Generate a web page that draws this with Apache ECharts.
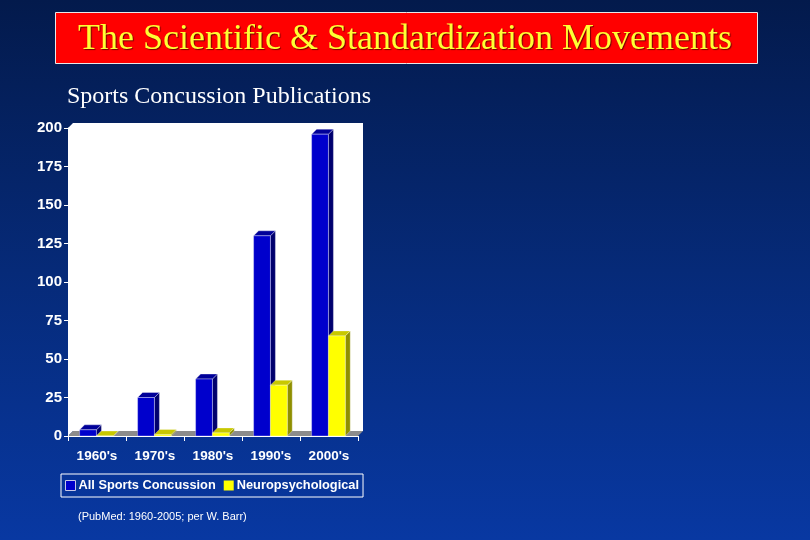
<!DOCTYPE html>
<html>
<head>
<meta charset="utf-8">
<script src="https://cdn.jsdelivr.net/npm/echarts@6/dist/echarts.min.js"></script>
<style>
html,body{margin:0;padding:0;width:810px;height:540px;overflow:hidden;background:#052977;}
#c{width:810px;height:540px;}
</style>
</head>
<body>
<div id="c"></div>
<script>
const categories = ["1960's", "1970's", "1980's", "1990's", "2000's"];
const allSports = [4, 25, 37, 130, 196];
const neuro = [0, 1, 2, 33, 65];
const yTicks = { min: 0, max: 200, interval: 25 };
const seriesNames = ['All Sports Concussion', 'Neuropsychological'];
const titleText = 'The Scientific & Standardization Movements';
const subtitleText = 'Sports Concussion Publications';
const noteText = '(PubMed: 1960-2005; per W. Barr)';

const DEPTH = 5;
const sans = "'Liberation Sans', Arial, sans-serif";
const serif = "'Liberation Serif', 'Times New Roman', serif";

function bar3d(colors, offsetFrac) {
  return function (params, api) {
    const ci = api.value(0);
    const top = api.coord([ci, api.value(1)]);
    const base = api.coord([ci, 0]);
    const band = api.size([1, 0])[0];
    const w = band * 0.29;
    const x = top[0] + band * offsetFrac;
    const y = top[1];
    const b = base[1];
    const d = DEPTH;
    const edge = { stroke: 'rgba(255,255,255,0.55)', lineWidth: 0.6 };
    return {
      type: 'group',
      children: [
        { type: 'polygon', shape: { points: [[x + w, y], [x + w + d, y - d], [x + w + d, b - d], [x + w, b]] },
          style: Object.assign({ fill: colors.side }, edge) },
        { type: 'polygon', shape: { points: [[x, y], [x + d, y - d], [x + w + d, y - d], [x + w, y]] },
          style: Object.assign({ fill: colors.top }, edge) },
        { type: 'rect', shape: { x: x, y: y, width: w, height: Math.max(b - y, 0) },
          style: Object.assign({ fill: colors.front }, edge) }
      ]
    };
  };
}

function wallFloor(params, api) {
  const n = categories.length;
  const band = api.size([1, 0])[0];
  const l = api.coord([0, yTicks.max])[0] - band / 2;
  const r = api.coord([n - 1, yTicks.max])[0] + band / 2;
  const t = api.coord([0, yTicks.max])[1];
  const b = api.coord([0, yTicks.min])[1];
  const d = DEPTH;
  return {
    type: 'group',
    children: [
      { type: 'polygon', shape: { points: [[l, t], [l + d, t - d], [r + d, t - d], [r + d, b - d], [l + d, b - d], [l, b]] },
        style: { fill: '#ffffff' } },
      { type: 'polygon', shape: { points: [[l, b], [l + d, b - d], [r + d, b - d], [r, b]] },
        style: { fill: '#8c8c8c' } }
    ]
  };
}

const chart = echarts.init(document.getElementById('c'), null, { renderer: 'canvas' });
chart.setOption({
  animation: false,
  backgroundColor: {
    type: 'linear', x: 0, y: 0, x2: 0, y2: 1,
    colorStops: [{ offset: 0, color: '#031a4c' }, { offset: 0.5, color: '#062a78' }, { offset: 1, color: '#0838a2' }]
  },
  graphic: [
    { type: 'rect', left: 55, top: 12, shape: { width: 702, height: 51 },
      style: { fill: '#ff0000', stroke: '#e8e8e8', lineWidth: 1 } },
    { type: 'text', left: 'center', top: 22, style: { text: titleText, fill: '#ffff33',
      font: "36px " + serif,
      textShadowColor: 'rgba(80,0,0,0.8)', textShadowOffsetX: 1, textShadowOffsetY: 1, textShadowBlur: 1 } },
    { type: 'text', left: 67, top: 85, style: { text: subtitleText, fill: '#ffffff',
      font: "24px " + serif } },
    { type: 'text', left: 78, top: 511, style: { text: noteText, fill: '#ffffff',
      font: "11px " + sans } }
  ],
  grid: { left: 68, top: 128, width: 290, height: 308, containLabel: false },
  legend: {
    left: 61, top: 474,
    padding: [5, 4, 5, 4],
    borderColor: '#ffffff', borderWidth: 1,
    itemWidth: 10, itemHeight: 10, itemGap: 8,
    icon: 'rect',
    textStyle: { color: '#ffffff', fontWeight: 'bold', fontSize: 12.8, fontFamily: sans, padding: [0, 0, 0, -2] },
    data: [
      { name: seriesNames[0], itemStyle: { color: '#0000cc', borderColor: '#c8c8e8', borderWidth: 1 } },
      { name: seriesNames[1], itemStyle: { color: '#ffff00' } }
    ]
  },
  xAxis: {
    type: 'category', data: categories,
    axisLine: { show: true, lineStyle: { color: '#ffffff', width: 1 } },
    axisTick: { show: true, length: 5, lineStyle: { color: '#ffffff' } },
    axisLabel: { color: '#ffffff', fontWeight: 'bold', fontSize: 13.5, fontFamily: sans, margin: 13, interval: 0 },
    splitLine: { show: false }
  },
  yAxis: {
    type: 'value', min: yTicks.min, max: yTicks.max, interval: yTicks.interval,
    axisLine: { show: true, lineStyle: { color: '#ffffff', width: 1 } },
    axisTick: { show: true, length: 4, lineStyle: { color: '#ffffff' } },
    axisLabel: { color: '#ffffff', fontWeight: 'bold', fontSize: 15, fontFamily: sans, margin: 6 },
    splitLine: { show: false }
  },
  series: [
    { type: 'custom', name: '_wall', z: 0, silent: true, renderItem: wallFloor, data: [[0, 0]], legendHoverLink: false },
    { type: 'custom', name: seriesNames[0], z: 2, itemStyle: { color: '#0000cc' },
      renderItem: bar3d({ front: '#0000cc', side: '#00006e', top: '#000099' }, -0.30),
      data: categories.map((c, i) => [i, allSports[i]]) },
    { type: 'custom', name: seriesNames[1], z: 2, itemStyle: { color: '#ffff00' },
      renderItem: bar3d({ front: '#ffff00', side: '#8f8f00', top: '#c8c800' }, -0.01),
      data: categories.map((c, i) => [i, neuro[i]]) }
  ]
});
</script>
</body>
</html>
